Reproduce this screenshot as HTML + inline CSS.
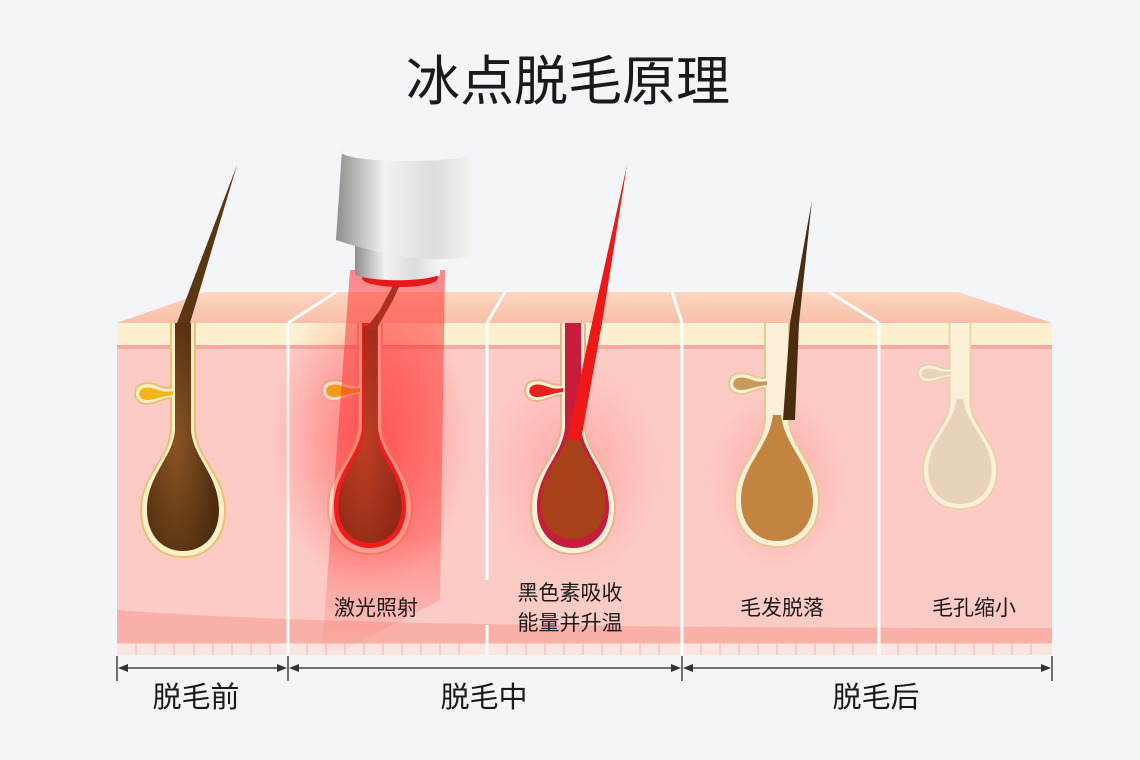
<!DOCTYPE html>
<html><head><meta charset="utf-8"><style>
html,body{margin:0;padding:0;background:#f4f5f9;}
svg{display:block}
text{font-family:"Liberation Sans","Noto Sans CJK SC",sans-serif;fill:#1a1a1a}
</style></head><body>
<svg width="1140" height="760" viewBox="0 0 1140 760" xmlns="http://www.w3.org/2000/svg">
<defs>
<clipPath id="skin"><rect x="117" y="323" width="935" height="332"/></clipPath>
<linearGradient id="dev" x1="0" x2="1"><stop offset="0" stop-color="#8e8e8e"/><stop offset="0.35" stop-color="#f2f2f2"/><stop offset="0.7" stop-color="#dcdcdc"/><stop offset="1" stop-color="#f5f5f5"/></linearGradient>
<linearGradient id="beam" x1="0" y1="0" x2="0" y2="1"><stop offset="0" stop-color="#ff2a2a" stop-opacity="0.7"/><stop offset="0.7" stop-color="#ff2020" stop-opacity="0.5"/><stop offset="1" stop-color="#ff4040" stop-opacity="0.05"/></linearGradient>
<radialGradient id="glow"><stop offset="0" stop-color="#ff3030" stop-opacity="0.55"/><stop offset="1" stop-color="#ff3030" stop-opacity="0"/></radialGradient>
<radialGradient id="glow2"><stop offset="0" stop-color="#ff5a5a" stop-opacity="0.3"/><stop offset="1" stop-color="#ff5a5a" stop-opacity="0"/></radialGradient>
<radialGradient id="bg1" cx="0.4" cy="0.55" r="0.6"><stop offset="0" stop-color="#8a5424"/><stop offset="1" stop-color="#4e2c0e"/></radialGradient>
<linearGradient id="topf" x1="0" y1="0" x2="0" y2="1"><stop offset="0" stop-color="#fcd6c0"/><stop offset="1" stop-color="#f9bfa8"/></linearGradient>
<path id="fol" d="M-12,-190 L12,-190 L12,-70 C14,-40 42,-25 42,10 C42,40 24,57 0,57 C-24,57 -42,40 -42,10 C-42,-25 -14,-40 -12,-70 L-12,-102 C-20,-102 -28,-96 -36,-96 C-46,-96 -50,-104 -47,-111 C-44,-118 -32,-118 -24,-114 C-20,-112 -16,-112 -12,-112 Z"/>
<path id="bulb" d="M-8,-190 L8,-190 L8,-70 C10,-42 36,-25 36,10 C36,36 20,51 0,51 C-20,51 -36,36 -36,10 C-36,-25 -10,-42 -8,-70 Z"/>
<path id="bulbL" d="M-4,-75 L4,-75 C8,-42 36,-25 36,10 C36,36 20,51 0,51 C-20,51 -36,36 -36,10 C-36,-25 -8,-42 -4,-75 Z"/>
<path id="seb" d="M-10,-105 C-20,-104 -28,-100 -36,-100 C-43,-100 -45,-105 -43,-109 C-40,-114 -32,-113 -25,-110 C-20,-108 -15,-108 -10,-109 Z"/>
</defs>
<rect x="0" y="0" width="1140" height="760" fill="#f4f5f9"/>
<text x="568" y="100" font-size="54" text-anchor="middle">冰点脱毛原理</text>

<polygon points="117,323 205,292 958,292 1052,323" fill="url(#topf)"/>
<rect x="117" y="323" width="935" height="332" fill="#fdcbc6"/>
<rect x="117" y="323" width="935" height="22" fill="#fdf0d0"/>
<rect x="117" y="345" width="935" height="4" fill="#f7aaa2"/>
<path d="M117,610 C300,625 700,628 1052,628 L1052,643 L117,643 Z" fill="#f9b0a8"/>
<rect x="117" y="643" width="935" height="12" fill="#fde5e2"/>
<g stroke="#f5b3ac" stroke-width="1">
<line x1="117" y1="643" x2="1052" y2="643"/>
<path d="M136,643v12M155,643v12M174,643v12M194,643v12M213,643v12M232,643v12M251,643v12M270,643v12M307,643v12M326,643v12M345,643v12M364,643v12M383,643v12M402,643v12M421,643v12M440,643v12M459,643v12M507,643v12M526,643v12M545,643v12M564,643v12M583,643v12M602,643v12M621,643v12M640,643v12M659,643v12M701,643v12M720,643v12M739,643v12M758,643v12M777,643v12M796,643v12M815,643v12M834,643v12M853,643v12M898,643v12M917,643v12M936,643v12M955,643v12M974,643v12M993,643v12M1012,643v12M1031,643v12"/>
</g>
<g stroke="#ffffff" stroke-width="3">
<line x1="288" y1="323" x2="288" y2="655"/><line x1="288" y1="323" x2="336" y2="292"/>
<line x1="487" y1="323" x2="487" y2="580"/><line x1="487" y1="625" x2="487" y2="655"/><line x1="487" y1="323" x2="505" y2="292"/>
<line x1="682" y1="323" x2="682" y2="655"/><line x1="682" y1="323" x2="672" y2="292"/>
<line x1="879" y1="323" x2="879" y2="655"/><line x1="879" y1="323" x2="829" y2="292"/>
</g>

<g clip-path="url(#skin)">
<ellipse cx="573" cy="470" rx="90" ry="110" fill="url(#glow2)"/>
<ellipse cx="777" cy="480" rx="70" ry="90" fill="url(#glow2)"/>
<ellipse cx="370" cy="440" rx="100" ry="150" fill="url(#glow)"/>

<g transform="translate(183,500)">
<use href="#fol" fill="#fdf0c8" stroke="#e8c070" stroke-width="2"/>
<use href="#bulb" fill="url(#bg1)"/>
<use href="#seb" fill="#f4b41a"/>
</g>

<g transform="translate(370,497)">
<use href="#fol" fill="#ffd9c8" stroke="#f3a080" stroke-width="2"/>
<use href="#bulb" fill="#e81818"/>
<g transform="scale(0.88,0.9)"><use href="#bulb" fill="url(#bg1)"/></g>
<use href="#seb" fill="#f59a1a"/>
</g>

<g transform="translate(573,497)">
<use href="#fol" fill="#fdf0d8" stroke="#eab090" stroke-width="2"/>
<use href="#bulb" fill="#c81c3c"/>
<g transform="scale(0.9) translate(0,-4)"><use href="#bulbL" fill="#a8401a"/></g>
<use href="#seb" fill="#e82020"/>
</g>

<g transform="translate(777,490)">
<use href="#fol" fill="#fdf0d8" stroke="#e8c890" stroke-width="2"/>
<use href="#bulbL" fill="#c2843e"/>
<use href="#seb" fill="#c89a5a"/>
</g>

<g transform="translate(960,470) scale(0.88,0.83) translate(0,-10)">
<use href="#fol" fill="#fdf0d8" stroke="#e8d0a8" stroke-width="2"/>
<use href="#bulbL" fill="#e8d2bc"/>
<use href="#seb" fill="#e8d4bc"/>
</g>
</g>

<polygon points="177,323 190,323 237,165" fill="#5b3613"/>
<polygon points="365,330 376,330 393,300 402,280 396,280 380,310" fill="#5b3613"/>
<polygon points="567,440 581,440 602,323 627,165 592,323" fill="#ee1818"/>
<polygon points="783,420 795,420 799,323 812,200 790,323" fill="#4a2c0e"/>

<polygon points="350,270 445,270 440,600 345,650 322,650" fill="url(#beam)" opacity="0.75"/>
<ellipse cx="400" cy="278" rx="38" ry="9" fill="#e81818"/>
<path d="M355,240 L440,240 L440,275 C420,282 375,282 355,275 Z" fill="url(#dev)"/>
<path d="M342,150 C380,140 450,145 475,158 L475,255 C450,262 400,262 336,240 Z" fill="url(#dev)"/>
<ellipse cx="408" cy="152" rx="67" ry="9" fill="#f5f5f5"/>

<text x="376" y="615" font-size="21" text-anchor="middle">激光照射</text>
<text x="570" y="600" font-size="21" text-anchor="middle">黑色素吸收</text>
<text x="570" y="630" font-size="21" text-anchor="middle">能量并升温</text>
<text x="782" y="615" font-size="21" text-anchor="middle">毛发脱落</text>
<text x="974" y="615" font-size="21" text-anchor="middle">毛孔缩小</text>

<g stroke="#444" stroke-width="1.5" fill="none">
<line x1="117" y1="656" x2="117" y2="681"/><line x1="288" y1="656" x2="288" y2="681"/>
<line x1="682" y1="656" x2="682" y2="681"/><line x1="1052" y1="656" x2="1052" y2="681"/>
<line x1="120" y1="668" x2="285" y2="668"/><line x1="291" y1="668" x2="679" y2="668"/><line x1="685" y1="668" x2="1049" y2="668"/>
</g>
<g fill="#333">
<polygon points="118,668 128,664 128,672"/><polygon points="287,668 277,664 277,672"/>
<polygon points="289,668 299,664 299,672"/><polygon points="681,668 671,664 671,672"/>
<polygon points="683,668 693,664 693,672"/><polygon points="1051,668 1041,664 1041,672"/>
</g>
<text x="196" y="707" font-size="29" text-anchor="middle">脱毛前</text>
<text x="484" y="707" font-size="29" text-anchor="middle">脱毛中</text>
<text x="876" y="707" font-size="29" text-anchor="middle">脱毛后</text>
</svg>
</body></html>
